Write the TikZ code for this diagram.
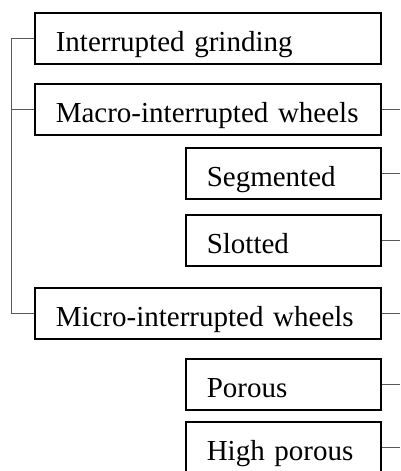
\documentclass[tikz,border=0pt]{standalone}
\usepackage{fontspec}
\setmainfont{Liberation Serif}
\usepackage{tikz}

\tikzset{
  box/.style={draw,line width=1.6pt,rectangle,anchor=north west,align=left,
    inner xsep=21pt,inner ysep=0pt,minimum height=51pt,
    text height=26pt,text depth=0pt,
    font=\fontsize{29}{32}\selectfont},
  wide/.style={box,text width=304pt},
  narrow/.style={box,text width=153pt},
  link/.style={draw=black!65,line width=0.8pt}
}

\begin{document}
\begin{tikzpicture}[x=1pt,y=-1pt]
  \useasboundingbox (0,0) rectangle (400,471);
  \node[wide] (grind) at (34,12) {Interrupted grinding};
  \node[wide] (macro) at (34,83) {Macro-interrupted wheels};
  \node[narrow] (seg) at (185,147) {Segmented};
  \node[narrow] (slot) at (185,214) {Slotted};
  \node[wide] (micro) at (34,287) {Micro-interrupted wheels};
  \node[narrow] (porous) at (185,358) {Porous};
  \node[narrow] (high) at (185,421) {High porous};
  % left bracket
  \coordinate (spine) at (11,0);
  \coordinate (edge) at (400,0);
  \draw[link] (grind.west) -- (grind.west -| spine) -- (micro.west -| spine) -- (micro.west);
  \draw[link] (macro.west) -- (macro.west -| spine);
  % stubs to the right
  \foreach \n in {macro,seg,slot,micro,porous,high}
    \draw[link] (\n.east) -- (\n.east -| edge);
\end{tikzpicture}
\end{document}
